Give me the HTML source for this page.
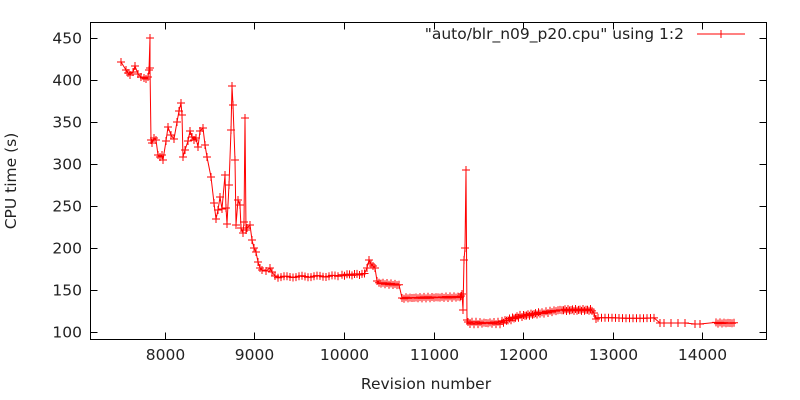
<!DOCTYPE html>
<html><head><meta charset="utf-8"><style>
html,body{margin:0;padding:0;background:#fff}
svg{display:block;font-family:"DejaVu Sans",sans-serif}
</style></head><body>
<svg id="s" width="800" height="400" viewBox="0 0 800 400" xmlns="http://www.w3.org/2000/svg">
<rect x="0" y="0" width="800" height="400" fill="#fff"/>
<g id="ax" stroke="#000" stroke-width="1" fill="none"></g>
<g id="lb" fill="#222" font-size="15.5"></g>
<text x="16" y="181" font-size="15.5" fill="#222" text-anchor="middle" transform="rotate(-90 16 181)">CPU time (s)</text>
<text x="426" y="389" font-size="15.5" fill="#222" text-anchor="middle">Revision number</text>
<text x="684" y="39" font-size="15.5" fill="#222" text-anchor="end">"auto/blr_n09_p20.cpu" using 1:2</text>
<line x1="697" y1="34" x2="745" y2="34" stroke="red" stroke-width="1"/>
<path d="M721 30V38M717 34H725" stroke="red" stroke-width="1"/>
<polyline id="pl" fill="none" stroke="red" stroke-width="1"/>
<path id="mk" fill="none" stroke="red" stroke-width="1"/>
</svg>
<script>
var ax=document.getElementById('ax'),lb=document.getElementById('lb');
var L=90.5,R=766.5,T=22.5,B=339.5,h='';
h+='<rect x="'+L+'" y="'+T+'" width="'+(R-L)+'" height="'+(B-T)+'"/>';
var lt='';
for(var v=100;v<=450;v+=50){var y=Math.round(332.3-(v-100)*0.84)+0.5;
h+='<path d="M'+L+' '+y+'H'+(L+7)+'M'+R+' '+y+'H'+(R-7)+'"/>';
lt+='<text x="82" y="'+(y+5)+'" text-anchor="end">'+v+'</text>';}
for(var k=8000;k<=14000;k+=1000){var x=Math.round(164.7+(k-8000)*0.0896)+0.5;
h+='<path d="M'+x+' '+B+'V'+(B-7)+'M'+x+' '+T+'V'+(T+7)+'"/>';
lt+='<text x="'+x+'" y="360" text-anchor="middle">'+k+'</text>';}
ax.innerHTML=h;lb.innerHTML=lt;
var P=[[121,62],[126,70],[128,73],[130,75],[133,72],[135,66],[138,74],[141,77],[144,78],[146,79],[148,77],[149,70],[150,38],[150,68],[151,140],[152,143],[154,138],[156,140],[158,155],[160,157],[162,155],[163,160],[166,141],[168,127],[171,135],[174,139],[177,122],[179,111],[181,103],[182,115],[183,157],[185,150],[188,141],[190,131],[192,137],[194,140],[196,138],[198,147],[200,131],[203,128],[205,145],[207,157],[211,177],[214,203],[216,219],[218,210],[220,197],[222,209],[225,175],[226,208],[227,224],[229,185],[231,130],[232,86],[233,105],[235,160],[236,225],[238,200],[240,205],[241,228],[243,233],[244,222],[245,118],[246,230],[247,228],[250,225],[252,240],[254,248],[256,252],[258,262],[260,268],[262,270],[266,271],[270,268],[272,272],[275,276]];
function flat(x0,x1,y0,y1,st,j){for(var x=x0;x<=x1;x+=st){P.push([x,y0+(y1-y0)*(x-x0)/(x1-x0)+(Math.sin(x*1.7)*j)]);}}
flat(278,340,277,276,3,0.8);flat(342,365,275,274,2.5,0.8);
P.push([367,268],[369,260],[371,264],[373,266],[375,268],[377,281]);
flat(379,400,283,285,2,0.8);P.push([402,298]);
flat(404,460,298,297,2,0.8);P.push([461,296],[462,294],[463,310],[464,260],[465,248],[466,170],[467,320],[468,322]);
flat(470,500,323,323,2,1.2);flat(502,520,322,316,1.5,1.2);flat(522,540,316,313,1.5,1);
flat(542,560,313,310,2,1);flat(562,592,310,310,1.5,1);P.push([594,313],[596,319]);
flat(598,656,318,318,3.5,0.3);P.push([660,323]);flat(664,690,323,323,7,0);
P.push([695,324],[700,324]);flat(716,735,323,323,2,0.6);
document.getElementById('pl').setAttribute('points',P.map(function(p){return p[0]+','+p[1].toFixed(1)}).join(' '));
var d='';P.forEach(function(p){d+='M'+(p[0]-4)+' '+p[1].toFixed(1)+'h8M'+p[0]+' '+(p[1]-4).toFixed(1)+'v8';});
document.getElementById('mk').setAttribute('d',d);
</script>
</body></html>
